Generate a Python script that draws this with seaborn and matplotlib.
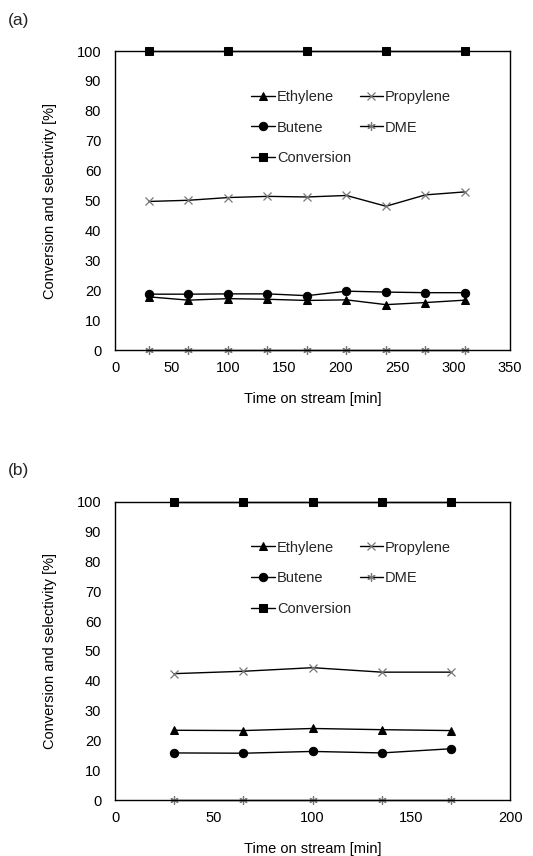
import matplotlib
matplotlib.use("Agg")
import matplotlib.pyplot as plt
import seaborn as sns
import numpy as np

sns.set_theme(style="white")
plt.rcParams['font.family'] = ['Liberation Sans', 'DejaVu Sans']

# Panel (a): time on stream and product selectivities
time_a = [30, 65, 100, 135, 170, 205, 240, 275, 310]
ethylene_a = [17.8, 16.7, 17.2, 17.0, 16.6, 16.8, 15.2, 15.9, 16.7]
propylene_a = [49.7, 50.1, 51.0, 51.4, 51.2, 51.7, 48.1, 51.9, 52.9]
butene_a = [18.7, 18.7, 18.8, 18.8, 18.2, 19.7, 19.4, 19.2, 19.2]
dme_a = [0, 0, 0, 0, 0, 0, 0, 0, 0]
conv_time_a = [30, 100, 170, 240, 310]
conversion_a = [100, 100, 100, 100, 100]

# Panel (b)
time_b = [30, 65, 100, 135, 170]
ethylene_b = [23.4, 23.3, 24.0, 23.6, 23.3]
propylene_b = [42.4, 43.2, 44.4, 42.9, 42.9]
butene_b = [15.8, 15.7, 16.3, 15.8, 17.2]
dme_b = [0, 0, 0, 0, 0]
conversion_b = [100, 100, 100, 100, 100]

fig = plt.figure(figsize=(5.33, 8.56), dpi=100)
ax_a = fig.add_axes([0.216, 0.591, 0.741, 0.3494])
ax_b = fig.add_axes([0.216, 0.0654, 0.741, 0.3482])

FS = 10.5


def draw_panel(ax, t, eth, prop, but, dme, tc, conv, xmax, legend_anchor):
    sns.lineplot(x=t, y=eth, ax=ax, color='black', lw=1.0, marker='^', ms=6,
                 mec='black', mfc='black', label='Ethylene')
    sns.lineplot(x=t, y=but, ax=ax, color='black', lw=1.0, marker='o', ms=6,
                 mec='black', mfc='black', label='Butene')
    sns.lineplot(x=tc, y=conv, ax=ax, color='black', lw=1.0, marker='s', ms=6,
                 mec='black', mfc='black', label='Conversion', clip_on=False)
    sns.lineplot(x=t, y=prop, ax=ax, color='black', lw=1.0, marker='x', ms=6,
                 mec='#777777', mew=0.9, label='Propylene')
    sns.lineplot(x=t, y=dme, ax=ax, color='black', lw=1.0, marker=(6, 2, 0), ms=6,
                 mec='#777777', mew=0.9, label='DME', clip_on=False)

    ax.set_xlim(0, xmax)
    ax.set_ylim(0, 100)
    ax.set_xticks(np.arange(0, xmax + 1, 50))
    ax.set_yticks(np.arange(0, 101, 10))
    ax.tick_params(axis='x', direction='in', length=4, width=0.8, colors='black',
                   labelsize=FS, pad=8)
    ax.tick_params(axis='y', direction='out', length=4, width=0.8, colors='black',
                   labelsize=FS, pad=6)
    for s in ax.spines.values():
        s.set_color('black')
        s.set_linewidth(1.0)
    ax.set_xlabel('Time on stream [min]', fontsize=FS, color='black', labelpad=12)
    ax.set_ylabel('Conversion and selectivity [%]', fontsize=FS, color='black',
                  labelpad=14)

    handles, labels = ax.get_legend_handles_labels()
    order = ['Ethylene', 'Butene', 'Conversion', 'Propylene', 'DME']
    hl = dict(zip(labels, handles))
    ax.legend([hl[k] for k in order], order, ncol=2, loc='upper left',
              bbox_to_anchor=legend_anchor, frameon=False, fontsize=FS,
              handlelength=1.6, handletextpad=0.15, labelspacing=1.15,
              columnspacing=0.6, borderaxespad=0)


draw_panel(ax_a, time_a, ethylene_a, propylene_a, butene_a, dme_a,
           conv_time_a, conversion_a, 350, (0.33, 0.89))
draw_panel(ax_b, time_b, ethylene_b, propylene_b, butene_b, dme_b,
           time_b, conversion_b, 200, (0.33, 0.89))

fig.text(8 / 533, 1 - 20 / 856, '(a)', fontsize=12.5, va='center', ha='left')
fig.text(8 / 533, 1 - 470 / 856, '(b)', fontsize=12.5, va='center', ha='left')

fig.savefig('out.png', dpi=100, facecolor='white')
